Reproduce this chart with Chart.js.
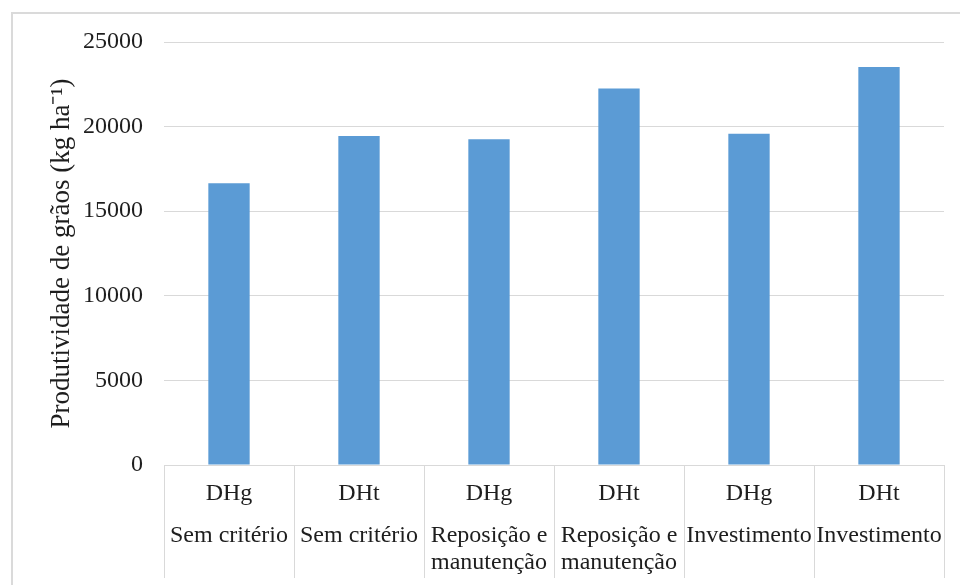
<!DOCTYPE html>
<html>
<head>
<meta charset="utf-8">
<script src="https://cdn.jsdelivr.net/npm/chart.js@4/dist/chart.umd.min.js"></script>
<style>
  html, body { margin:0; padding:0; background:#ffffff; overflow:hidden; }
  #frame { position:absolute; left:11px; top:12px; width:1000px; height:1000px; border:2px solid #dadada; box-sizing:border-box; }
  #wrap { position:absolute; left:0; top:0; width:960px; height:585px; }
</style>
</head>
<body>
<div id="frame"></div>
<div id="wrap"><canvas id="c" width="960" height="585"></canvas></div>
<script>
const methods = ["DHg", "DHt", "DHg", "DHt", "DHg", "DHt"];
const criteria = [["Sem critério"], ["Sem critério"], ["Reposição e", "manutenção"], ["Reposição e", "manutenção"], ["Investimento"], ["Investimento"]];
const productivity = [16650, 19450, 19250, 22250, 19580, 23520];
const yTicks = [0, 5000, 10000, 15000, 20000, 25000];
const yTitle = "Produtividade de grãos (kg ha⁻¹)";

const FONT = "'Liberation Serif', 'Times New Roman', serif";
const GRID = "#d9d9d9";
const TEXT = "#1e1e1e";

const separators = {
  id: 'separators',
  afterDraw(chart) {
    const xs = chart.scales.x;
    const ctx = chart.ctx;
    const top = chart.chartArea.bottom;
    ctx.save();
    ctx.strokeStyle = GRID;
    ctx.lineWidth = 1;
    for (let i = 0; i <= methods.length; i++) {
      const px = Math.round(xs.getPixelForValue(i - 0.5)) + 0.5;
      ctx.beginPath();
      ctx.moveTo(px, top);
      ctx.lineTo(px, 578);
      ctx.stroke();
    }
    ctx.restore();
  }
};

new Chart(document.getElementById('c'), {
  type: 'bar',
  data: {
    labels: methods,
    datasets: [{
      data: productivity,
      backgroundColor: '#5b9bd5',
      borderWidth: 0,
      categoryPercentage: 1,
      barPercentage: 0.318,
      xAxisID: 'x',
      yAxisID: 'y'
    }]
  },
  options: {
    responsive: false,
    animation: false,
    devicePixelRatio: 1,
    layout: { padding: { top: 42, right: 16, left: 0, bottom: 0 } },
    plugins: { legend: { display: false }, tooltip: { enabled: false } },
    scales: {
      x: {
        type: 'category',
        position: 'bottom',
        offset: true,
        grid: { display: false, drawTicks: false },
        border: { display: true, color: GRID, width: 1 },
        ticks: { color: TEXT, font: { family: FONT, size: 24, lineHeight: 1.125 }, padding: 15, maxRotation: 0, autoSkip: false },
        afterFit(s) { s.height = 42.5; }
      },
      x2: {
        type: 'category',
        position: 'bottom',
        labels: criteria,
        offset: true,
        grid: { display: false, drawTicks: false },
        border: { display: false },
        ticks: { color: TEXT, font: { family: FONT, size: 24, lineHeight: 1.125 }, padding: 14.5, maxRotation: 0, autoSkip: false },
        afterFit(s) { s.height = 77.5; }
      },
      y: {
        min: 0,
        max: 25000,
        afterBuildTicks(s) { s.ticks = yTicks.map(v => ({ value: v })); },
        grid: { color: GRID, lineWidth: 1, drawTicks: false },
        border: { display: false },
        ticks: { color: TEXT, font: { family: FONT, size: 24 }, padding: 21, callback: v => String(v) },
        title: { display: true, text: yTitle, color: TEXT, font: { family: FONT, size: 27 }, padding: { top: 46, bottom: 0 } },
        afterFit(s) { s.width = 164; }
      }
    }
  },
  plugins: [separators]
});
</script>
</body>
</html>
